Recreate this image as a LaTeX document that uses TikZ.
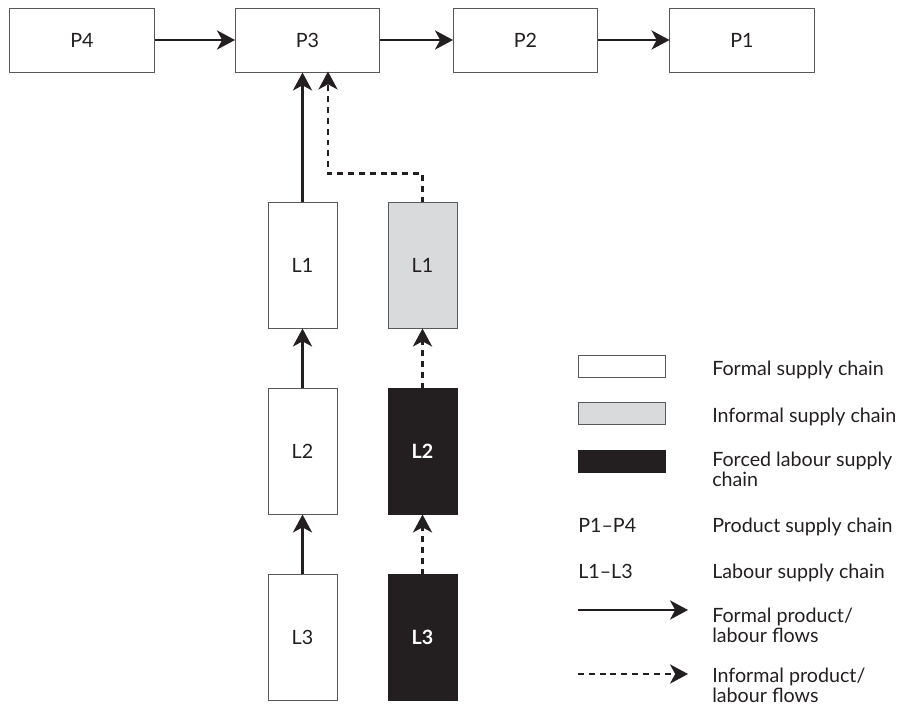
\documentclass[tikz,border=0pt]{standalone}
\usepackage{fontspec}
\setmainfont{Lato}
\usetikzlibrary{arrows.meta}
\definecolor{ink}{HTML}{231F20}
\definecolor{frame}{HTML}{58595B}
\definecolor{informal}{HTML}{D9DADB}

\begin{document}
\begin{tikzpicture}[x=0.025cm, y=-0.025cm,
    every node/.style={font=\fontsize{14}{14.2}\selectfont, text=ink},
    pbox/.style={draw=frame, line width=0.7pt, fill=white, minimum width=3.6cm, minimum height=1.6cm, inner sep=0pt},
    lbox/.style={draw=frame, line width=0.7pt, fill=white, minimum width=1.725cm, minimum height=3.125cm, inner sep=0pt},
    keybox/.style={draw=frame, line width=0.7pt, minimum width=2.175cm, minimum height=0.55cm, inner sep=0pt},
    forced/.style={fill=ink, draw=ink, text=white, font=\fontsize{14}{14.2}\selectfont\bfseries},
    key/.style={anchor=base west, inner sep=0pt},
    key2/.style={anchor=north west, inner sep=0pt, align=left},
    flow/.style={draw=ink, line width=1.5pt, -{Stealth[length=4.5mm, width=4.8mm, inset=1.3mm]}},
    iflow/.style={flow, dash pattern=on 4.2pt off 3.5pt}]
  \useasboundingbox (0,0) rectangle (908,711);
  % Product supply chain
  \node[pbox] (p4) at (82,40) {P4};
  \node[pbox] (p3) at (307.5,40) {P3};
  \node[pbox] (p2) at (525.5,40) {P2};
  \node[pbox] (p1) at (742,40) {P1};
  \draw[flow] (p4) -- (p3);
  \draw[flow] (p3) -- (p2);
  \draw[flow] (p2) -- (p1);
  % Formal labour chain
  \node[lbox] (fl1) at (302.5,265.5) {L1};
  \node[lbox] (fl2) at (302.5,451.5) {L2};
  \node[lbox] (fl3) at (302.5,637.5) {L3};
  \draw[flow] (fl3) -- (fl2);
  \draw[flow] (fl2) -- (fl1);
  \draw[flow] (fl1.north) -- (fl1.north |- p3.south);
  % Informal and forced labour chain
  \node[lbox, fill=informal] (il1) at (422.5,265.5) {L1};
  \node[lbox, forced] (il2) at (422.5,451.5) {L2};
  \node[lbox, forced] (il3) at (422.5,637.5) {L3};
  \coordinate (p3in) at (328,71.5);
  \draw[iflow] (il3) -- (il2);
  \draw[iflow] (il2) -- (il1);
  \draw[iflow] (il1.north) -- ++(0,-29) -| (p3in);
  % Key
  \node[keybox, fill=white] (kformal) at (621.5,366) {};
  \node[keybox, fill=informal] (kinformal) at (621.5,413.5) {};
  \node[keybox, fill=ink, draw=ink] (kforced) at (621.5,461) {};
  \node[key] (tformal) at (712,375) {Formal supply chain};
  \node[key] (tinformal) at (712,422) {Informal supply chain};
  \node[key2] (tforced) at (712,452) {Forced labour supply\\chain};
  \node[key] (kp) at (578,532) {P1–P4};
  \node[key] (tp) at (712,532) {Product supply chain};
  \node[key] (kl) at (578,578) {L1–L3};
  \node[key] (tl) at (712,578) {Labour supply chain};
  \coordinate (fa0) at (578,610);
  \coordinate (fa1) at (688,610);
  \coordinate (ia0) at (578,674);
  \coordinate (ia1) at (688,674);
  \draw[flow] (fa0) -- (fa1);
  \draw[iflow] (ia0) -- (ia1);
  \node[key2] (tfa) at (712,608) {Formal product/\\labour flows};
  \node[key2] (tia) at (712,668) {Informal product/\\labour flows};
\end{tikzpicture}
\end{document}
